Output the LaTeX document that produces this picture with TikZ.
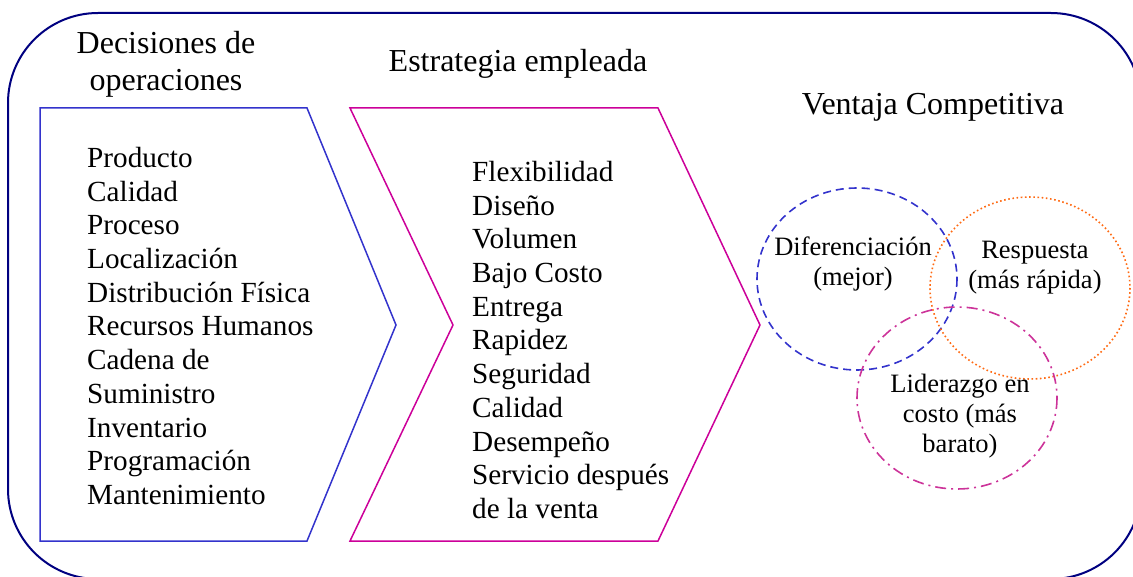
\documentclass[tikz,border=0pt]{standalone}
\usepackage{fontspec}
\setmainfont{Liberation Serif}
\definecolor{navy}{HTML}{000080}
\definecolor{chevblue}{HTML}{3333CC}
\definecolor{chevmag}{HTML}{CC0099}
\definecolor{circorange}{HTML}{FF6A13}
\definecolor{circpink}{HTML}{CC3399}
\begin{document}
\begin{tikzpicture}[x=1pt,y=-1pt,
  listtext/.style={align=left,inner sep=0pt,font=\fontsize{29.2}{33.7}\selectfont},
  titletext/.style={align=center,inner sep=0pt,font=\fontsize{32}{37}\selectfont},
  circtext/.style={align=center,inner sep=0pt,font=\fontsize{26.5}{30}\selectfont},
  ring/.style={line width=1.6pt}]
\useasboundingbox (0,0) rectangle (1133,577);
% outer frame
\draw[navy,line width=2pt,rounded corners=90pt] (8,13) rectangle (1141,579);
% chevrons
\draw[chevblue,line width=1.5pt] (40,108) -- (307,108) -- (396,325) -- (307,541) -- (40,541) -- cycle;
\draw[chevmag,line width=1.5pt] (350,108) -- (658,108) -- (760,325) -- (658,541) -- (350,541) -- (453,325) -- cycle;
% titles
\node[titletext] (t1) at (166,64) {Decisiones de\\operaciones};
\node[titletext] (t2) at (518,64) {Estrategia empleada};
\node[titletext] (t3) at (933,107) {Ventaja Competitiva};
% lists
\node[listtext,anchor=west] (l1) at (87,326) {Producto\\Calidad\\Proceso\\Localización\\Distribución Física\\Recursos Humanos\\Cadena de\\Suministro\\Inventario\\Programación\\Mantenimiento};
\node[listtext,anchor=west] (l2) at (472,340) {Flexibilidad\\Diseño\\Volumen\\Bajo Costo\\Entrega\\Rapidez\\Seguridad\\Calidad\\Desempeño\\Servicio después\\de la venta};
% circles
\draw[ring,chevblue,dash pattern=on 8pt off 5pt] (857,279) ellipse [x radius=100, y radius=91];
\draw[ring,circorange,dash pattern=on 1.6pt off 2.6pt] (1030,288) ellipse [x radius=100, y radius=91];
\draw[ring,circpink,dash pattern=on 11pt off 5pt on 2pt off 5pt] (957,398) ellipse [x radius=100, y radius=91];
\node[circtext] (c1) at (853,264) {Diferenciación\\(mejor)};
\node[circtext] (c2) at (1035,268) {Respuesta\\(más rápida)};
\node[circtext] (c3) at (960,416) {Liderazgo en\\costo (más\\barato)};
\end{tikzpicture}
\end{document}
